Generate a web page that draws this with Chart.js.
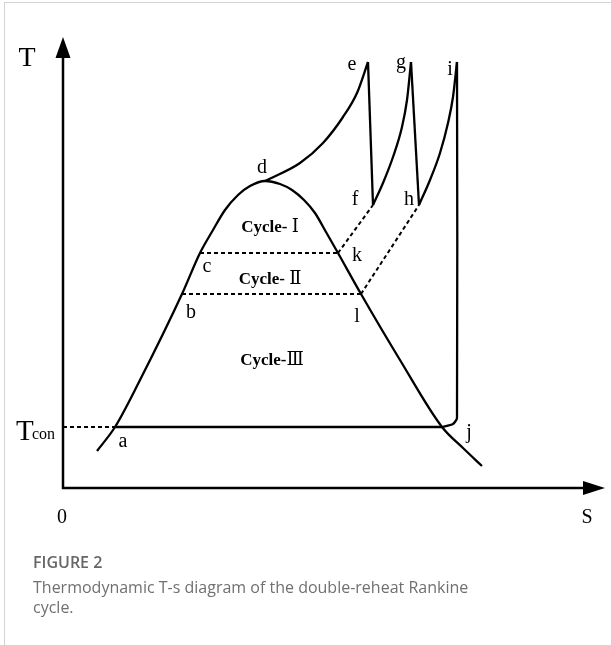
<!DOCTYPE html>
<html>
<head>
<meta charset="utf-8">
<title>T-s diagram</title>
<script src="https://cdn.jsdelivr.net/npm/chart.js@4.4.1/dist/chart.umd.min.js"></script>
<style>
  html, body { margin: 0; padding: 0; background: #fff; }
  #wrap { position: relative; width: 611px; height: 645px; overflow: hidden; }
  #frame { position: absolute; left: 4px; top: 2px; right: 0; bottom: 0;
           border-left: 1.5px solid #d4d4d4; border-top: 1.5px solid #d4d4d4; }
  #ts-chart { position: absolute; left: 0; top: 0; }
  #caption { position: absolute; left: 33px; top: 552px; width: 445px;
             font-family: "Open Sans", sans-serif; font-size: 16px; line-height: 20px; color: #707070; }
  #caption .fig { font-weight: 600; color: #666; }
  #caption .txt { margin-top: 5px; }
</style>
</head>
<body>
<div id="wrap">
  <div id="frame"></div>
  <canvas id="ts-chart" width="611" height="645"></canvas>
  <div id="caption">
    <div class="fig">FIGURE 2</div>
    <div class="txt">Thermodynamic T-s diagram of the double-reheat Rankine cycle.</div>
  </div>
</div>
<script>
// axis ranges (entropy s, temperature T, arbitrary units)
const sMax = 10.84;
const tMax = 9.02;
const tCon = 1.22;

// state points of the cycle
const stateNames = ["a", "b", "c", "d", "e", "f", "g", "h", "i", "j", "k", "l"];
const stateS = [1.04, 2.38, 2.74, 4.04, 6.10, 6.20, 6.96, 7.12, 7.88, 7.58, 5.50, 5.96];
const stateT = [1.22, 3.88, 4.70, 6.14, 8.52, 5.66, 8.52, 5.66, 8.52, 1.22, 4.70, 3.88];

// saturation dome
const domeS = [0.68, 1.04, 1.54, 2.38, 2.74, 3.00, 3.24, 3.50, 3.74, 4.04, 4.34, 4.58, 4.82, 5.04, 5.26, 5.50, 5.96, 6.74, 7.58, 8.00, 8.38];
const domeT = [0.74, 1.22, 2.16, 3.88, 4.70, 5.16, 5.56, 5.86, 6.04, 6.14, 6.08, 5.96, 5.76, 5.50, 5.12, 4.70, 3.88, 2.56, 1.22, 0.80, 0.44];

// superheating d -> e
const superS = [4.04, 4.74, 5.20, 5.60, 5.88, 6.10];
const superT = [6.14, 6.50, 6.90, 7.42, 7.90, 8.52];

// first reheat f -> g
const reheat1S = [6.20, 6.40, 6.60, 6.78, 6.88, 6.96];
const reheat1T = [5.66, 6.10, 6.62, 7.22, 7.76, 8.52];

// second reheat h -> i
const reheat2S = [7.12, 7.34, 7.54, 7.70, 7.80, 7.88];
const reheat2T = [5.66, 6.16, 6.70, 7.30, 7.82, 8.52];

// expansion i -> j
const expandS = [7.88, 7.88, 7.80, 7.58];
const expandT = [8.52, 1.40, 1.28, 1.22];

// text inside the cycle: word + roman numeral
const cycleWords = ["Cycle- ", "Cycle- ", "Cycle-"];
const cycleNums = ["\u2160", "\u2161", "\u2162"];
const cycleS = [4.14, 4.14, 4.18];
const cycleT = [5.12, 4.08, 2.46];

function st(name) {
  const i = stateNames.indexOf(name);
  return { x: stateS[i], y: stateT[i] };
}

function toPoints(xs, ys) {
  return xs.map((x, i) => ({ x: x, y: ys[i] }));
}

function solid(points, curved, tension) {
  return {
    data: points,
    showLine: true,
    borderColor: "#000",
    borderWidth: 2.3,
    pointRadius: 0,
    cubicInterpolationMode: curved ? "monotone" : "default",
    tension: tension || 0,
    clip: false,
  };
}

function dotted(points) {
  const ds = solid(points, false);
  ds.borderDash = [4, 3];
  ds.borderWidth = 2;
  return ds;
}

// label offsets in px from each state point (center x, baseline y)
const labelOffset = {
  a: [8, 20], b: [9, 24], c: [7, 19], d: [-3, -8], e: [-16, 8], f: [-18, 0],
  g: [-10, 6], h: [-10, 0], i: [-7, 13], j: [27, 11], k: [19, 8], l: [-4, 28],
};

const wordFont = "bold 17px 'Liberation Serif'";
const numFont = "18px 'DejaVu Serif', serif";

const decorPlugin = {
  id: "decor",
  afterDatasetsDraw(chart) {
    const ctx = chart.ctx;
    const xs = chart.scales.x;
    const ys = chart.scales.y;
    const x0 = xs.getPixelForValue(0);
    const y0 = ys.getPixelForValue(0);
    const xEnd = xs.getPixelForValue(sMax);
    const yEnd = ys.getPixelForValue(tMax);

    ctx.save();
    ctx.strokeStyle = "#000";
    ctx.fillStyle = "#000";
    ctx.lineWidth = 2.5;

    // axes
    ctx.beginPath();
    ctx.moveTo(x0, yEnd + 18);
    ctx.lineTo(x0, y0);
    ctx.lineTo(xEnd - 18, y0);
    ctx.stroke();

    // arrow heads
    ctx.beginPath();
    ctx.moveTo(x0, yEnd);
    ctx.lineTo(x0 - 7.5, yEnd + 21);
    ctx.lineTo(x0 + 7.5, yEnd + 21);
    ctx.closePath();
    ctx.fill();
    ctx.beginPath();
    ctx.moveTo(xEnd, y0);
    ctx.lineTo(xEnd - 22, y0 - 7);
    ctx.lineTo(xEnd - 22, y0 + 7);
    ctx.closePath();
    ctx.fill();

    ctx.textAlign = "center";
    ctx.textBaseline = "alphabetic";

    // axis names
    ctx.font = "28px 'Liberation Serif'";
    ctx.fillText("T", x0 - 36, yEnd + 29);
    ctx.font = "20px 'Liberation Serif'";
    ctx.fillText("0", x0 - 1, y0 + 35);
    ctx.fillText("S", xEnd - 18, y0 + 35);

    // T con on the y axis
    const yCon = ys.getPixelForValue(tCon);
    ctx.textAlign = "left";
    ctx.font = "29px 'Liberation Serif'";
    ctx.fillText("T", x0 - 47, yCon + 13);
    ctx.font = "16px 'Liberation Serif'";
    ctx.fillText("con", x0 - 31, yCon + 12);

    // state labels
    ctx.textAlign = "center";
    ctx.font = "20px 'Liberation Serif'";
    stateNames.forEach((name, i) => {
      const px = xs.getPixelForValue(stateS[i]);
      const py = ys.getPixelForValue(stateT[i]);
      const off = labelOffset[name];
      ctx.fillText(name, px + off[0], py + off[1]);
    });

    // cycle names, bold word then plain numeral
    ctx.textAlign = "left";
    cycleWords.forEach((word, i) => {
      ctx.font = wordFont;
      const w1 = ctx.measureText(word).width;
      ctx.font = numFont;
      const w2 = ctx.measureText(cycleNums[i]).width;
      const left = xs.getPixelForValue(cycleS[i]) - (w1 + w2) / 2;
      const base = ys.getPixelForValue(cycleT[i]);
      ctx.font = wordFont;
      ctx.fillText(word, left, base);
      ctx.font = numFont;
      ctx.fillText(cycleNums[i], left + w1, base);
    });
    ctx.restore();
  },
};

const datasets = [
  solid(toPoints(domeS, domeT), true),
  solid(toPoints(superS, superT), true),
  solid([st("e"), st("f")]),
  solid(toPoints(reheat1S, reheat1T), true),
  solid([st("g"), st("h")]),
  solid(toPoints(reheat2S, reheat2T), true),
  solid(toPoints(expandS, expandT), false, 0.2),
  solid([st("a"), st("j")]),
  dotted([{ x: 0, y: tCon }, st("a")]),
  dotted([st("c"), st("k")]),
  dotted([st("b"), st("l")]),
  dotted([st("k"), st("f")]),
  dotted([st("l"), st("h")]),
];

new Chart(document.getElementById("ts-chart"), {
  type: "scatter",
  data: { datasets: datasets },
  options: {
    responsive: false,
    animation: false,
    layout: { padding: { left: 63, right: 6, top: 37, bottom: 157 } },
    plugins: { legend: { display: false }, tooltip: { enabled: false } },
    scales: {
      x: { type: "linear", min: 0, max: sMax, display: false },
      y: { type: "linear", min: 0, max: tMax, display: false },
    },
  },
  plugins: [decorPlugin],
});
</script>
</body>
</html>
